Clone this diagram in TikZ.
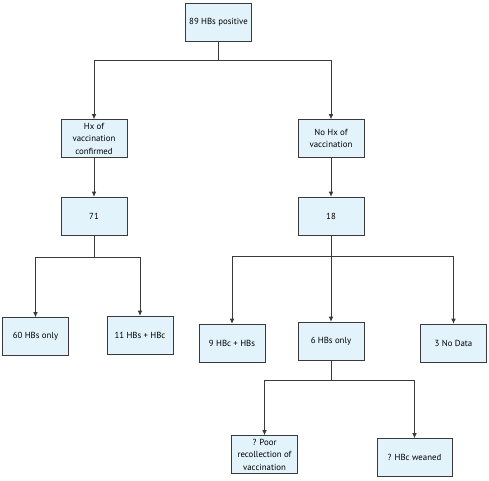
\documentclass[tikz,border=0pt]{standalone}
\usepackage{fontspec}
\setmainfont{PT Sans}
\usetikzlibrary{arrows.meta}
\definecolor{boxblue}{HTML}{E2F3FC}
\definecolor{edgegray}{HTML}{3A3A3A}
\begin{document}
\begin{tikzpicture}
    [x=1pt, y=-1pt,
    semithick,
    every node/.style={font=\fontsize{8.8}{12.5}\selectfont},
    box/.style={draw=edgegray, fill=boxblue, align=center,
      minimum width=66pt, minimum height=38pt, inner sep=1pt},
    link/.style={draw=edgegray, -{Latex[length=5pt,width=4.5pt]}},
    bus/.style={draw=edgegray},
    ]
    \useasboundingbox (0,0) rectangle (489,480);
    \node[box] (top) at (218.5,22) {89 HBs positive};
    \node[box] (hx) at (94,138.5) {Hx of\\vaccination\\confirmed};
    \node[box] (nohx) at (331,138.5) {No Hx of\\vaccination};
    \node[box] (n71) at (94,216) {71};
    \node[box] (n18) at (331,216) {18};
    \node[box] (s60) at (35.5,336.5) {60 HBs only};
    \node[box] (s11) at (140,335) {11 HBs + HBc};
    \node[box] (s9) at (232,343) {9 HBc + HBs};
    \node[box] (s6) at (331,341) {6 HBs only};
    \node[box] (s3) at (453.5,343) {3 No Data};
    \node[box] (poor) at (264.5,454.5) {? Poor\\recollection of\\vaccination};
    \node[box, minimum width=75pt] (wean) at (414.5,457.5) {? HBc weaned};
    % split points
    \coordinate (b0) at (218.5,60);
    \coordinate (b1) at (94,257);
    \coordinate (b2) at (331,256);
    \coordinate (b3) at (331,380);
    \draw[bus] (top) -- (b0);
    \draw[link] (b0) -| (hx);
    \draw[link] (b0) -| (nohx);
    \draw[link] (hx) -- (n71);
    \draw[link] (nohx) -- (n18);
    \draw[bus] (n71) -- (b1);
    \draw[link] (b1) -| (s60);
    \draw[link] (b1) -| (s11);
    \draw[bus] (n18) -- (b2);
    \draw[link] (b2) -| (s9);
    \draw[link] (b2) -- (s6);
    \draw[link] (b2) -| (s3);
    \draw[bus] (s6) -- (b3);
    \draw[link] (b3) -| (poor);
    \draw[link] (b3) -| (wean);
  \end{tikzpicture}
\end{document}
